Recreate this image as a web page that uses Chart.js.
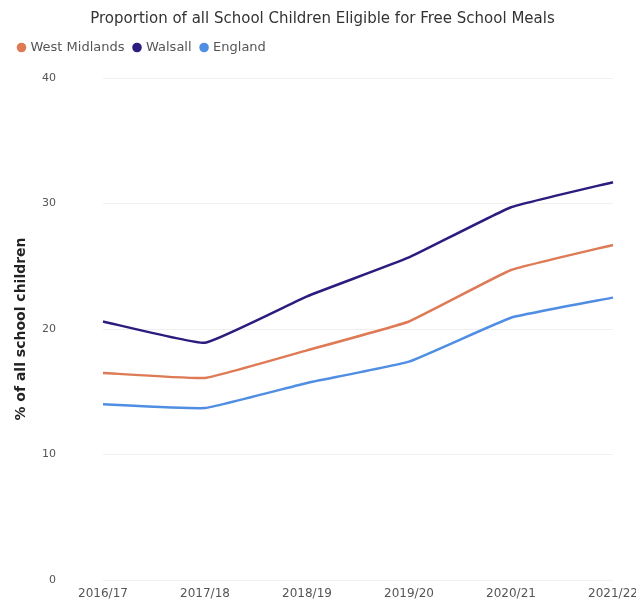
<!DOCTYPE html>
<html>
<head>
<meta charset="utf-8">
<script src="https://cdn.jsdelivr.net/npm/chart.js@4/dist/chart.umd.min.js"></script>
<style>
  html, body { margin: 0; padding: 0; background: #fff; }
  #wrap { width: 636px; height: 605px; }
</style>
</head>
<body>
<div id="wrap"><canvas id="fsm"></canvas></div>
<script>
// School years on the x axis
const years = ['2016/17', '2017/18', '2018/19', '2019/20', '2020/21', '2021/22'];

// Percentage of pupils eligible for free school meals
const westMidlands = [16.5, 16.1, 18.3, 20.6, 24.7, 26.7];
const walsall = [20.6, 18.9, 22.6, 25.7, 29.7, 31.7];
const england = [14.0, 13.7, 15.7, 17.4, 20.9, 22.5];

// Y axis range and step
const yTicks = [0, 10, 20, 30, 40];

const FONT = 'DejaVu Sans';

// Extra room between the legend row and the plot
const legendGap = {
  id: 'legendGap',
  beforeInit(chart) {
    const fit = chart.legend.fit;
    chart.legend.fit = function () {
      fit.bind(chart.legend)();
      this.height += 14;
    };
  }
};

new Chart(document.getElementById('fsm'), {
  type: 'line',
  data: {
    labels: years,
    datasets: [
      { label: 'West Midlands', data: westMidlands, borderColor: '#de7a55', backgroundColor: '#de7a55' },
      { label: 'Walsall', data: walsall, borderColor: '#2a1d7e', backgroundColor: '#2a1d7e' },
      { label: 'England', data: england, borderColor: '#4f8ee3', backgroundColor: '#4f8ee3' }
    ].map(d => Object.assign(d, { borderWidth: 2.5, pointRadius: 0, tension: 0.1, fill: false }))
  },
  plugins: [legendGap],
  options: {
    responsive: true,
    maintainAspectRatio: false,
    animation: false,
    layout: { padding: { left: 9, right: 0, top: 8, bottom: 0 } },
    plugins: {
      title: {
        display: true,
        text: 'Proportion of all School Children Eligible for Free School Meals',
        color: '#333',
        font: { family: FONT, size: 15, weight: 'normal' },
        padding: { top: 2, bottom: 3 }
      },
      legend: {
        align: 'start',
        labels: {
          usePointStyle: true,
          pointStyle: 'circle',
          boxWidth: 5,
          boxHeight: 5,
          padding: 10,
          color: '#555',
          font: { family: FONT, size: 13 }
        }
      },
      tooltip: { enabled: false }
    },
    scales: {
      x: {
        grid: { display: false, drawTicks: false },
        border: { display: false },
        ticks: { color: '#555', font: { family: FONT, size: 12 }, maxRotation: 0, autoSkip: false, padding: 7 },
        afterFit: axis => { axis.height = 25; axis.paddingRight = 23; axis.paddingLeft = 0; }
      },
      y: {
        min: yTicks[0],
        max: yTicks[yTicks.length - 1],
        afterBuildTicks: axis => { axis.ticks = yTicks.map(v => ({ value: v })); },
        grid: { color: 'rgba(0,0,0,0.06)', drawTicks: false },
        border: { display: false },
        ticks: { color: '#555', font: { family: FONT, size: 11 }, padding: 47 },
        title: {
          display: true,
          text: '% of all school children',
          color: '#222',
          font: { family: FONT, size: 14, weight: 'bold' },
          padding: { top: 4, bottom: 4 }
        },
        afterFit: axis => { axis.width = 94; axis.paddingTop = 0; axis.paddingBottom = 0; }
      }
    }
  }
});
</script>
</body>
</html>
